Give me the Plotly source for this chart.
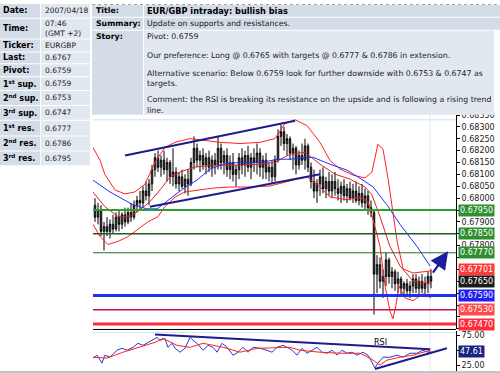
import plotly.graph_objects as go

W, H = 500, 373
def px(x): return x / W
def py(y): return 1 - y / H

FONT = "DejaVu Sans"

# ---------------- data ----------------
bar_idx = list(range(113))
opens = [0.6797,0.6792,0.6795,0.6786,0.6788,0.6786,0.6789,0.6787,0.6792,0.6789,
         0.6793,0.6790,0.6794,0.6792,0.6797,0.6799,0.6798,0.6803,0.6801,0.6806,
         0.6812,0.6817,0.6813,0.6816,0.6812,0.6815,0.6809,0.6811,0.6806,0.6809,
         0.6805,0.6808,0.6806,0.6815,0.6821,0.6816,0.6818,0.6814,0.6817,0.6813,
         0.6816,0.6814,0.6821,0.6815,0.6818,0.6812,0.6815,0.6810,0.6812,0.6817,
         0.6814,0.6818,0.6813,0.6817,0.6815,0.6819,0.6813,0.6816,0.6811,0.6813,
         0.6809,0.6816,0.6826,0.6828,0.6823,0.6825,0.6819,0.6821,0.6814,0.6818,
         0.6816,0.6822,0.6813,0.6807,0.6803,0.6806,0.6809,0.6804,0.6807,0.6803,
         0.6807,0.6804,0.6802,0.6805,0.6801,0.6804,0.6800,0.6803,0.6799,0.6802,
         0.6798,0.6801,0.6796,0.6794,0.6768,0.6772,0.6765,0.6767,0.6774,0.6767,
         0.6769,0.6764,0.6766,0.6762,0.6764,0.6761,0.6763,0.6766,0.6762,0.6765,
         0.6762,0.6764,0.6767]
highs = [0.6800,0.6798,0.6797,0.6790,0.6792,0.6791,0.6793,0.6794,0.6795,0.6794,
         0.6796,0.6796,0.6798,0.6799,0.6801,0.6803,0.6805,0.6807,0.6808,0.6814,
         0.6819,0.6820,0.6818,0.6820,0.6817,0.6816,0.6821,0.6813,0.6811,0.6812,
         0.6810,0.6812,0.6817,0.6826,0.6823,0.6820,0.6821,0.6819,0.6820,0.6818,
         0.6819,0.6826,0.6823,0.6820,0.6821,0.6818,0.6819,0.6814,0.6819,0.6821,
         0.6820,0.6822,0.6819,0.6821,0.6823,0.6821,0.6818,0.6819,0.6815,0.6816,
         0.6818,0.6829,0.6831,0.6830,0.6827,0.6826,0.6823,0.6822,0.6820,0.6823,
         0.6825,0.6823,0.6815,0.6812,0.6808,0.6812,0.6813,0.6809,0.6811,0.6810,
         0.6811,0.6808,0.6807,0.6808,0.6806,0.6807,0.6806,0.6807,0.6805,0.6806,
         0.6804,0.6803,0.6799,0.6795,0.6776,0.6775,0.6770,0.6777,0.6775,0.6771,
         0.6770,0.6769,0.6767,0.6765,0.6766,0.6765,0.6768,0.6768,0.6767,0.6768,
         0.6767,0.6769,0.6770]
lows = [0.6790,0.6789,0.6784,0.6778,0.6784,0.6783,0.6785,0.6786,0.6786,0.6787,
        0.6788,0.6789,0.6790,0.6791,0.6794,0.6795,0.6796,0.6799,0.6797,0.6803,
        0.6809,0.6811,0.6809,0.6810,0.6807,0.6806,0.6805,0.6804,0.6803,0.6804,
        0.6802,0.6801,0.6805,0.6812,0.6813,0.6811,0.6812,0.6810,0.6811,0.6809,
        0.6810,0.6812,0.6812,0.6810,0.6809,0.6808,0.6807,0.6805,0.6808,0.6810,
        0.6809,0.6811,0.6808,0.6811,0.6810,0.6809,0.6808,0.6808,0.6807,0.6806,
        0.6807,0.6815,0.6822,0.6820,0.6818,0.6816,0.6812,0.6810,0.6812,0.6814,
        0.6812,0.6811,0.6804,0.6800,0.6798,0.6801,0.6802,0.6800,0.6801,0.6800,
        0.6801,0.6799,0.6798,0.6799,0.6798,0.6799,0.6798,0.6798,0.6797,0.6796,
        0.6795,0.6793,0.6792,0.6751,0.6760,0.6762,0.6758,0.6763,0.6764,0.6762,
        0.6761,0.6760,0.6759,0.6759,0.6759,0.6758,0.6760,0.6760,0.6759,0.6760,
        0.6759,0.6760,0.6762]
closes = [0.6792,0.6795,0.6786,0.6788,0.6786,0.6789,0.6787,0.6792,0.6789,0.6793,
          0.6790,0.6794,0.6792,0.6797,0.6799,0.6798,0.6803,0.6801,0.6806,0.6812,
          0.6817,0.6813,0.6816,0.6812,0.6815,0.6809,0.6811,0.6806,0.6809,0.6805,
          0.6808,0.6806,0.6815,0.6821,0.6816,0.6818,0.6814,0.6817,0.6813,0.6816,
          0.6814,0.6821,0.6815,0.6818,0.6812,0.6815,0.6810,0.6812,0.6817,0.6814,
          0.6818,0.6813,0.6817,0.6815,0.6819,0.6813,0.6816,0.6811,0.6813,0.6809,
          0.6816,0.6826,0.6828,0.6823,0.6825,0.6819,0.6821,0.6814,0.6818,0.6816,
          0.6822,0.6813,0.6807,0.6803,0.6806,0.6809,0.6804,0.6807,0.6803,0.6807,
          0.6804,0.6802,0.6805,0.6801,0.6804,0.6800,0.6803,0.6799,0.6802,0.6798,
          0.6801,0.6796,0.6794,0.6768,0.6772,0.6765,0.6767,0.6774,0.6767,0.6769,
          0.6764,0.6766,0.6762,0.6764,0.6761,0.6763,0.6766,0.6762,0.6765,0.6762,
          0.6764,0.6767,0.6765]

# Bollinger bands (read at bar positions)
bb_up_x = [-0.7,1.7,3.3,6.7,10,13.3,16.7,20,23.3,26.7,31.7,36.7,41.7,48.3,55,60,63.3,66.7,
           70.7,75,78.3,81.7,86,90,92.3,94.3,96,97.7,99.3,100.7,102.7,106,111.7,112]
bb_up = [0.68214,0.68159,0.68100,0.68034,0.68018,0.68026,0.68060,0.68151,0.68214,0.68235,
         0.68251,0.68243,0.68235,0.68230,0.68235,0.68251,0.68314,0.68330,0.68305,0.68235,
         0.68159,0.68122,0.68097,0.68085,0.68110,0.68227,0.68206,0.68081,0.67943,0.67818,
         0.67702,0.67685,0.67693,0.67701]
bb_mid_x = [-0.7,3.3,7.7,11.7,15,18.3,21.7,25,28.3,33.3,40,48.3,55,60,65,70,75,80,85,90,
            92.3,95,98.3,101.7,106,112]
bb_mid = [0.68026,0.67964,0.67922,0.67922,0.67951,0.67985,0.68035,0.68089,0.68110,0.68131,
          0.68139,0.68139,0.68143,0.68151,0.68185,0.68193,0.68143,0.68101,0.68080,0.68047,
          0.68014,0.67922,0.67797,0.67714,0.67651,0.67639]
bb_lo_x = [-0.7,1.7,4.3,7.7,11,14.3,17.7,21,23.3,26.7,30,35,40,45,51.7,58.3,63.3,67.3,70.7,
           75,78.3,84,88.3,91,93.3,95,96.7,98.3,99.3,100.3,101.3,103.3,106,109.3,112]
bb_lo = [0.67890,0.67838,0.67805,0.67818,0.67838,0.67868,0.67901,0.67922,0.67964,0.68005,
         0.68026,0.68035,0.68043,0.68047,0.68047,0.68051,0.68068,0.68080,0.68089,0.68047,
         0.68005,0.67993,0.68005,0.67985,0.67880,0.67797,0.67630,0.67525,0.67492,0.67547,
         0.67630,0.67580,0.67568,0.67597,0.67580]
# moving average (blue)
ma_x = [-0.7,5,12.7,17.3,20.7,25,29.3,34,38.3,42.7,48.3,56,60.7,65,72.7,78.3,84,89.3,92.7,
        97.3,101.7,107.3,111.7]
ma = [0.68076,0.68026,0.67972,0.67955,0.67955,0.67997,0.68039,0.68076,0.68122,0.68143,
      0.68151,0.68151,0.68164,0.68164,0.68172,0.68143,0.68118,0.68076,0.68047,0.67972,
      0.67889,0.67797,0.67714]
# trend channel
chan_up_x = [10, 66.7]
chan_up = [0.68180, 0.68326]
chan_lo_x = [18.3, 75]
chan_lo = [0.67964, 0.68101]
# arrow (from -> to)
arrow_x = [112.3, 117.7]
arrow_y = [0.6768, 0.67776]

# support / resistance levels
levels = [0.6795, 0.6785, 0.6777, 0.6759, 0.6753, 0.6747]
level_colors = ["#2E9E2E", "#1F5A1F", "#2F6A2F", "#2030F0", "#C8104A", "#FF2A3A"]
level_widths = [2, 1.5, 1, 3, 1.5, 3]

# right axis value boxes
box_vals = [0.6795, 0.6785, 0.6777, 0.67701, 0.6765, 0.6759, 0.6753, 0.6747]
box_colors = ["#2F8F2F", "#2F8F2F", "#2F8F2F", "#FF3A3A", "#1A1A1A", "#2020F0", "#FF4A4A", "#FF2A3A"]

# price axis ticks (labels hidden where a value box sits)
price_ticks = [0.6745, 0.6750, 0.6755, 0.6760, 0.6765, 0.6770, 0.6775, 0.6780, 0.6785, 0.6790,
               0.6795, 0.6800, 0.6805, 0.6810, 0.6815, 0.6820, 0.6825, 0.6830, 0.6835]
hidden_ticks = [0.6745, 0.6750, 0.6755, 0.6760, 0.6765, 0.6770, 0.6775, 0.6785, 0.6795]

# RSI
rsi_x = [-0.7,0.7,2.3,3.3,5,7.3,9,10.7,12.7,14.3,16,17.7,19.3,20.7,21.7,23.3,24.3,25.7,26.7,
         28.3,30,31.7,32.7,34,36,37.7,39.3,40.7,42.3,44,46,47.7,49.3,51,52.7,55,57.3,59,60.7,
         62.7,64,65.7,67.3,69,70.7,72.3,74,75.7,77.3,79,80.7,82.3,84,85.7,87.3,89.3,91,92.3,
         93.3,94.3,96,98.3,100.7,102.7,105,107.3,109.3,111,112]
rsi = [36.7,41.7,28.3,41.7,38.3,50,53.3,50,55,61.7,58.3,63.3,66.7,71.7,66.7,70,55,61.7,53.3,
       46.7,53.3,71.7,66.7,61.7,50,58.3,55,46.7,61.7,55,41.7,46.7,55,46.7,55,53.3,50,46.7,55,
       58.3,55,50,41.7,53.3,45,50,55,46.7,45,50,41.7,50,45,46.7,41.7,46.7,41.7,30,
       20,28.3,38.3,38.3,41.7,38.3,45,45,50,46.7,47.61]
rsi_ma_x = [-0.7,4,9.3,15,20,22.7,27.3,31.7,36,42.7,48.3,54,60.7,65,68.3,75,81.7,88.3,91.7,95,
            97.3,101.7,106,111.7]
rsi_ma = [38.3,36.7,46.7,55,63.3,70,58.3,55,61.7,55,46.7,53.3,55,55,50,46.7,45,45,36.7,25,
          33.3,38.3,41.7,50]
rsi_res_x = [20, 111.7]
rsi_res = [76.7, 51.7]
rsi_sup_x = [93.3, 117.3]
rsi_sup = [18.3, 53.3]
rsi_last = 47.61
rsi_ticks = [25, 50, 75]

# tables
left_labels = ["Date:", "Time:", "Ticker:", "Last:", "Pivot:", "1<sup>st</sup> sup.",
               "2<sup>nd</sup> sup.", "3<sup>rd</sup> sup.", "1<sup>st</sup> res.",
               "2<sup>nd</sup> res.", "3<sup>rd</sup> res."]
left_values = ["2007/04/18", "07:46<br>(GMT +2)", "EURGBP", "0.6767", "0.6759", "0.6759",
               "0.6753", "0.6747", "0.6777", "0.6786", "0.6795"]
left_rows = [(0, 14), (15, 35), (36, 48), (49, 60), (61, 73), (74, 87), (88, 102),
             (103, 117), (118, 133), (134, 148), (149, 163)]

right_labels = ["Title:", "Summary:", "Story:"]
title_text = "EUR/GBP intraday: bullish bias"
summary_text = "Update on supports and resistances."
story_lines = [
    ("Pivot: 0.6759", 33),
    ("Our preference: Long @ 0.6765 with targets @ 0.6777 & 0.6786 in extension.", 52),
    ("Alternative scenario: Below 0.6759 look for further downside with 0.6753 & 0.6747 as", 70),
    ("targets.", 80.5),
    ("Comment: the RSI is breaking its resistance on the upside and is following a rising trend", 97),
    ("line.", 107.5),
]

# ---------------- figure ----------------
fig = go.Figure()

fig.add_trace(go.Candlestick(
    x=bar_idx, open=opens, high=highs, low=lows, close=closes,
    increasing=dict(line=dict(color="#000000", width=1), fillcolor="#8C8C8C"),
    decreasing=dict(line=dict(color="#000000", width=1), fillcolor="#6E6E6E"),
    whiskerwidth=0, xaxis="x", yaxis="y", showlegend=False, hoverinfo="skip"))

def line(xs, ys, color, width, xa="x", ya="y"):
    fig.add_trace(go.Scatter(x=xs, y=ys, mode="lines", line=dict(color=color, width=width),
                             xaxis=xa, yaxis=ya, showlegend=False, hoverinfo="skip"))

line(bb_up_x, bb_up, "#FF2020", 1)
line(bb_mid_x, bb_mid, "#E02020", 1)
line(bb_lo_x, bb_lo, "#FF2020", 1)
line(ma_x, ma, "#2030FF", 1)
line(chan_up_x, chan_up, "#1C1C8C", 2)
line(chan_lo_x, chan_lo, "#1C1C8C", 2)

line(rsi_x, rsi, "#2A3AC8", 1, "x2", "y2")
line(rsi_ma_x, rsi_ma, "#FF2020", 1, "x2", "y2")
line(rsi_res_x, rsi_res, "#1C1C8C", 2, "x2", "y2")
line(rsi_sup_x, rsi_sup, "#1C1C8C", 2, "x2", "y2")

shapes = []
annotations = []

# level lines
for lv, c, w in zip(levels, level_colors, level_widths):
    shapes.append(dict(type="line", xref="paper", yref="y", x0=px(93), x1=px(456), y0=lv, y1=lv,
                       line=dict(color=c, width=w), layer="above"))

# panel borders / faint grid
shapes += [
    dict(type="line", xref="paper", yref="paper", x0=px(93), x1=px(456), y0=py(117), y1=py(117),
         line=dict(color="#D6E2EE", width=1), layer="below"),
    dict(type="line", xref="paper", yref="paper", x0=px(430), x1=px(430), y0=py(112), y1=py(371),
         line=dict(color="#DCE6F0", width=1), layer="below"),
    dict(type="line", xref="paper", yref="paper", x0=px(93), x1=px(456), y0=py(329), y1=py(329),
         line=dict(color="#000000", width=1), layer="above"),
    dict(type="line", xref="paper", yref="paper", x0=px(93), x1=px(456), y0=py(332), y1=py(332),
         line=dict(color="#D6E2EE", width=1), layer="below"),
    dict(type="line", xref="paper", yref="paper", x0=0, x1=1, y0=py(372), y1=py(372),
         line=dict(color="#B0B0B0", width=1.5), layer="above"),
]

# left table
LBL = "#D3DCE7"
VAL = "#E2E8F0"
for (t, b), lab, val in zip(left_rows, left_labels, left_values):
    shapes.append(dict(type="rect", xref="paper", yref="paper", x0=px(0), x1=px(40), y0=py(b), y1=py(t),
                       fillcolor=LBL, line=dict(width=0), layer="above"))
    shapes.append(dict(type="rect", xref="paper", yref="paper", x0=px(41), x1=px(90), y0=py(b), y1=py(t),
                       fillcolor=VAL, line=dict(width=0), layer="above"))
    yc = py((t + b) / 2)
    annotations.append(dict(xref="paper", yref="paper", x=px(1), y=yc, xanchor="left", yanchor="middle",
                            text="<b>" + lab + "</b>", showarrow=False,
                            font=dict(family=FONT, size=8, color="#000000")))
    annotations.append(dict(xref="paper", yref="paper", x=px(43), y=yc, xanchor="left", yanchor="middle",
                            text=val, showarrow=False, align="left",
                            font=dict(family=FONT, size=7.5, color="#1A1A1A")))

# right table
right_rows = [(1, 13), (14, 26), (27, 112)]
for i, ((t, b), lab) in enumerate(zip(right_rows, right_labels)):
    shapes.append(dict(type="rect", xref="paper", yref="paper", x0=px(92), x1=px(143), y0=py(b), y1=py(t),
                       fillcolor=LBL, line=dict(width=0), layer="above"))
    x1v = 500 if i < 2 else 494
    shapes.append(dict(type="rect", xref="paper", yref="paper", x0=px(144), x1=px(x1v), y0=py(b), y1=py(t),
                       fillcolor=(LBL if i < 2 else VAL), line=dict(width=0), layer="above"))
    ylab = (t + b) / 2 if i < 2 else 33
    annotations.append(dict(xref="paper", yref="paper", x=px(94), y=py(ylab), xanchor="left", yanchor="middle",
                            text="<b>" + lab + "</b>", showarrow=False,
                            font=dict(family=FONT, size=7.8, color="#000000")))
shapes.append(dict(type="line", xref="paper", yref="paper", x0=px(92), x1=1, y0=py(0.5), y1=py(0.5),
                   line=dict(color="#9AA4AE", width=1, dash="dot"), layer="above"))
annotations.append(dict(xref="paper", yref="paper", x=px(145), y=py(7), xanchor="left", yanchor="middle",
                        text="<b>" + title_text + "</b>", showarrow=False,
                        font=dict(family=FONT, size=8.2, color="#000000")))
annotations.append(dict(xref="paper", yref="paper", x=px(145), y=py(20), xanchor="left", yanchor="middle",
                        text=summary_text, showarrow=False,
                        font=dict(family=FONT, size=7.8, color="#1A1A1A")))
for txt, yy in story_lines:
    annotations.append(dict(xref="paper", yref="paper", x=px(145), y=py(yy), xanchor="left", yanchor="middle",
                            text=txt, showarrow=False,
                            font=dict(family=FONT, size=7.8, color="#1A1A1A")))

# value boxes on price axis
for v, c in zip(box_vals, box_colors):
    annotations.append(dict(xref="paper", yref="y", x=px(458), y=v, xanchor="left", yanchor="middle",
                            text="%.5f" % v, showarrow=False, bgcolor=c, borderpad=1,
                            font=dict(family=FONT, size=8, color="#FFFFFF")))
annotations.append(dict(xref="paper", yref="y2", x=px(458), y=rsi_last, xanchor="left", yanchor="middle",
                        text="%.2f" % rsi_last, showarrow=False, bgcolor="#1A237E", borderpad=1,
                        font=dict(family=FONT, size=8, color="#FFFFFF")))

# arrow
annotations.append(dict(xref="x", yref="y", axref="x", ayref="y", x=arrow_x[1], y=arrow_y[1],
                        ax=arrow_x[0], ay=arrow_y[0], text="", showarrow=True, arrowhead=2,
                        arrowsize=1.6, arrowwidth=2.2, arrowcolor="#1C1C9C"))
# RSI label
annotations.append(dict(xref="x2", yref="y2", x=95, y=63, text="RSI", showarrow=False,
                        font=dict(family=FONT, size=8, color="#000000")))

price_text = ["" if any(abs(t - h) < 1e-9 for h in hidden_ticks) else "%.5f" % t for t in price_ticks]
rsi_text = ["" if t == 50 else "%.2f" % t for t in rsi_ticks]

fig.update_layout(
    width=W, height=H, margin=dict(l=0, r=0, t=0, b=0),
    paper_bgcolor="#FFFFFF", plot_bgcolor="#FFFFFF",
    shapes=shapes, annotations=annotations, showlegend=False,
    xaxis=dict(domain=[px(93), px(456)], range=[-0.667, 120.33], visible=False,
               rangeslider=dict(visible=False), anchor="y"),
    xaxis2=dict(domain=[px(93), px(456)], range=[-0.667, 120.33], visible=False, anchor="y2",
                matches="x"),
    yaxis=dict(domain=[py(329), py(112)], range=[0.67447, 0.68351], side="right", anchor="x",
               showline=True, linecolor="#000000", linewidth=1, ticks="outside", ticklen=3,
               tickcolor="#000000", tickvals=price_ticks, ticktext=price_text, showgrid=False,
               zeroline=False, tickfont=dict(family=FONT, size=8, color="#222222")),
    yaxis2=dict(domain=[py(371), py(331)], range=[15, 81.7], side="right", anchor="x2",
                showline=True, linecolor="#000000", linewidth=1, ticks="outside", ticklen=3,
                tickcolor="#000000", tickvals=rsi_ticks, ticktext=rsi_text, showgrid=False,
                zeroline=False, tickfont=dict(family=FONT, size=8, color="#222222")),
)

fig.write_html("out.html")
